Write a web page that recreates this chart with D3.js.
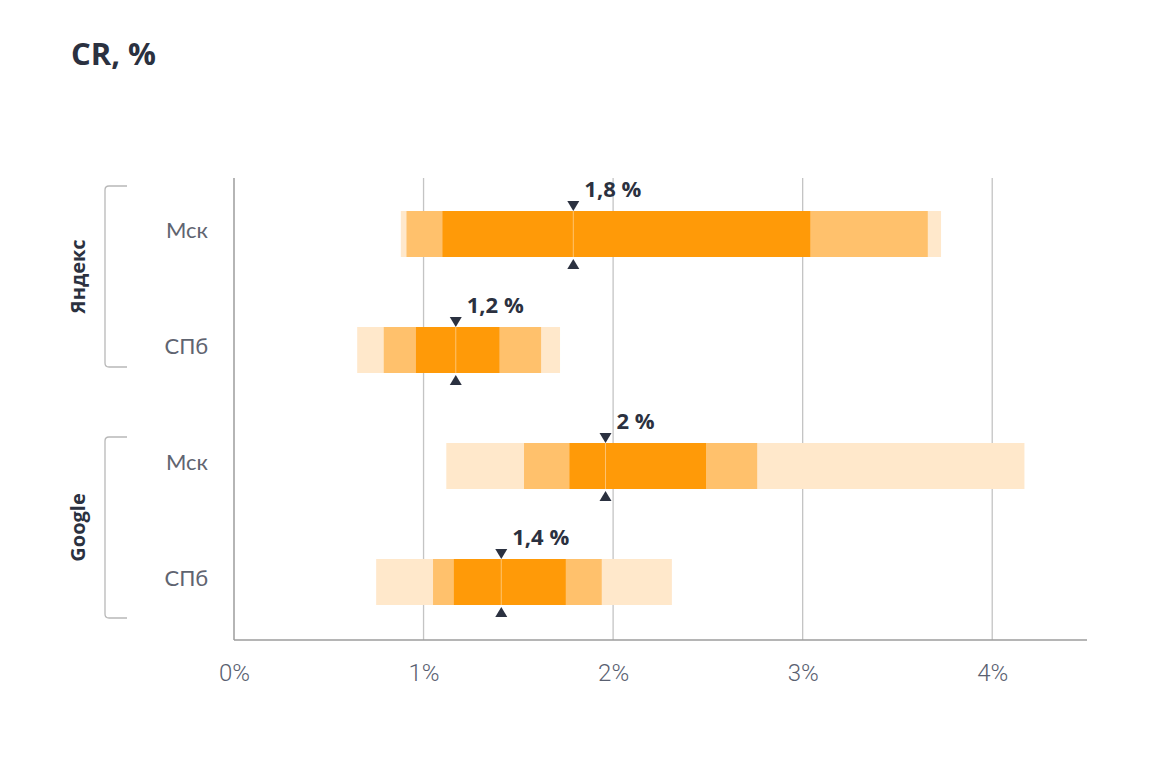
<!DOCTYPE html>
<html><head><meta charset="utf-8">
<script src="https://cdn.jsdelivr.net/npm/d3@7"></script>
<style>
html,body{margin:0;padding:0;background:#fff;}
svg{display:block;}
</style></head>
<body>
<svg id="chart" width="1176" height="758"></svg>
<script>
// ---- data ----
const categories = ["Мск", "СПб", "Мск", "СПб"];
const groupOf = ["Яндекс", "Яндекс", "Google", "Google"];
const groups = ["Яндекс", "Google"];
const lightRange = [[0.88, 3.73], [0.65, 1.72], [1.12, 4.17], [0.75, 2.31]];
const midRange   = [[0.91, 3.66], [0.79, 1.62], [1.53, 2.76], [1.05, 1.94]];
const darkRange  = [[1.10, 3.04], [0.96, 1.40], [1.77, 2.49], [1.16, 1.75]];
const medians = [1.79, 1.17, 1.96, 1.41];
const medianLabels = ["1,8 %", "1,2 %", "2 %", "1,4 %"];
const xTicks = [0, 1, 2, 3, 4];
const xTickLabels = ["0%", "1%", "2%", "3%", "4%"];
const title = "CR, %";

// ---- layout ----
const svg = d3.select("#chart");
const dark = "#2b3140";
const x = d3.scaleLinear().domain([0, 4.5]).range([234, 1087]);
const y = d3.scalePoint().domain(d3.range(categories.length)).range([234, 582]);
const plotTop = 178, plotBottom = 640;
const barH = 46;

svg.append("text").attr("x", 71).attr("y", 65).text(title)
  .attr("font-family", "Open Sans, sans-serif").attr("font-weight", 700)
  .attr("font-size", 31).attr("fill", dark);

// gridlines
svg.append("g").selectAll("line").data(xTicks.filter(d => d > 0)).join("line")
  .attr("x1", d => x(d)).attr("x2", d => x(d))
  .attr("y1", plotTop).attr("y2", plotBottom)
  .attr("stroke", "#c4c4c4").attr("stroke-width", 1.3);

// x axis
const xAxis = d3.axisBottom(x).tickValues(xTicks)
  .tickFormat((d, i) => xTickLabels[i]).tickSize(0).tickPadding(24);
const gx = svg.append("g").attr("transform", `translate(0,${plotBottom})`).call(xAxis);
gx.select(".domain").remove();
gx.selectAll("text").attr("font-family", "Roboto, sans-serif").attr("font-weight", 300)
  .attr("font-size", 24).attr("fill", "#596070");

// axis lines
svg.append("line").attr("x1", x(0)).attr("x2", x(0)).attr("y1", plotTop).attr("y2", plotBottom)
  .attr("stroke", "#9c9c9c").attr("stroke-width", 1.5);
svg.append("line").attr("x1", x(0)).attr("x2", x(4.5)).attr("y1", plotBottom).attr("y2", plotBottom)
  .attr("stroke", "#9c9c9c").attr("stroke-width", 1.5);

// bars
const rows = categories.map((c, i) => ({i, c}));
function layer(data, color) {
  svg.append("g").selectAll("rect").data(data).join("rect")
    .attr("x", d => x(d[0])).attr("width", d => x(d[1]) - x(d[0]))
    .attr("y", (d, i) => y(i) - barH / 2).attr("height", barH)
    .attr("fill", color);
}
layer(lightRange, "#ffe8cb");
layer(midRange, "#ffc16c");
layer(darkRange, "#ff9a08");

// median line
svg.append("g").selectAll("line").data(medians).join("line")
  .attr("x1", d => x(d)).attr("x2", d => x(d))
  .attr("y1", (d, i) => y(i) - barH / 2).attr("y2", (d, i) => y(i) + barH / 2)
  .attr("stroke", "#ffc36e").attr("stroke-width", 1);

// triangles
const tri = svg.append("g");
medians.forEach((m, i) => {
  const cx = x(m), top = y(i) - barH / 2, bot = y(i) + barH / 2;
  tri.append("path").attr("d", `M${cx - 6},${top - 10}L${cx + 6},${top - 10}L${cx},${top}Z`).attr("fill", dark);
  tri.append("path").attr("d", `M${cx - 6},${bot + 12}L${cx + 6},${bot + 12}L${cx},${bot + 2}Z`).attr("fill", dark);
});

// median labels
svg.append("g").selectAll("text").data(medians).join("text")
  .attr("x", d => x(d) + 11).attr("y", (d, i) => y(i) - barH / 2 - 14)
  .text((d, i) => medianLabels[i])
  .attr("font-family", "Open Sans, sans-serif").attr("font-weight", 700)
  .attr("font-size", 22).attr("fill", dark);

// category labels
svg.append("g").selectAll("text").data(rows).join("text")
  .attr("x", 208).attr("y", d => y(d.i) - 4).attr("dy", "0.35em")
  .attr("text-anchor", "end").text(d => d.c)
  .attr("font-family", "Lato, sans-serif").attr("font-weight", 400)
  .attr("font-size", 22).attr("fill", "#5f6470");

// group brackets and labels
const bracketPad = {"Яндекс": [48, 17], "Google": [29, 36]};
groups.forEach(g => {
  const idx = d3.range(categories.length).filter(i => groupOf[i] === g);
  const y0 = y(idx[0]) - bracketPad[g][0], y1 = y(idx[idx.length - 1]) + bracketPad[g][1];
  const bx = 105, bx2 = 127;
  svg.append("path")
    .attr("d", `M${bx2},${y0}L${bx + 4},${y0}Q${bx},${y0} ${bx},${y0 + 4}L${bx},${y1 - 4}Q${bx},${y1} ${bx + 4},${y1}L${bx2},${y1}`)
    .attr("fill", "none").attr("stroke", "#b8b8b8").attr("stroke-width", 1.3);
  const cy = (y0 + y1) / 2;
  svg.append("text").attr("transform", `translate(78,${cy}) rotate(-90)`)
    .attr("text-anchor", "middle").attr("dy", "0.35em").text(g)
    .attr("font-family", "Open Sans, sans-serif").attr("font-weight", 700)
    .attr("font-size", 20).attr("fill", dark);
});
</script>
</body></html>
